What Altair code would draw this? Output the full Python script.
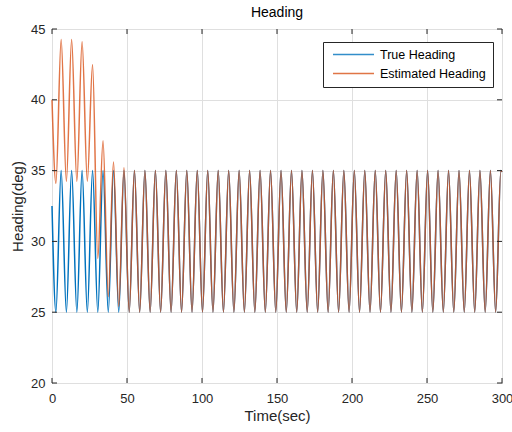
import altair as alt
import pandas as pd

time_s = [0, 2.61, 6.10, 9.59, 13.08, 16.57, 20.06, 23.55, 27.04, 30.53, 34.02, 37.51,
          41.00, 44.49, 47.98, 51.47, 54.96, 58.45, 61.94, 65.43, 68.92, 72.41, 75.90,
          79.39, 82.88, 86.37, 89.86, 93.35, 96.84, 100.33, 103.82, 107.31, 110.80,
          114.29, 117.78, 121.27, 124.76, 128.25, 131.74, 135.23, 138.72, 142.21,
          145.70, 149.19, 152.68, 156.17, 159.66, 163.15, 166.64, 170.13, 173.62,
          177.11, 180.60, 184.09, 187.58, 191.07, 194.56, 198.05, 201.54, 205.03,
          208.52, 212.01, 215.50, 218.99, 222.48, 225.97, 229.46, 232.95, 236.44,
          239.93, 243.42, 246.91, 250.40, 253.89, 257.38, 260.87, 264.36, 267.85,
          271.34, 274.83, 278.32, 281.81, 285.30, 288.79, 292.28, 295.77, 299.26, 300]

true_heading = [32.5, 25, 35, 25, 35, 25, 35, 25, 35, 25, 35, 25,
                35, 25, 35, 25, 35, 25, 35, 25, 35, 25, 35,
                25, 35, 25, 35, 25, 35, 25, 35, 25, 35,
                25, 35, 25, 35, 25, 35, 25, 35, 25,
                35, 25, 35, 25, 35, 25, 35, 25, 35,
                25, 35, 25, 35, 25, 35, 25, 35, 25,
                35, 25, 35, 25, 35, 25, 35, 25, 35,
                25, 35, 25, 35, 25, 35, 25, 35, 25,
                35, 25, 35, 25, 35, 25, 35, 25, 35, 34.9]

est_heading = [40.0, 34.1, 44.25, 34.25, 44.25, 34.25, 44.1, 34.25, 42.5, 28.8, 37.1, 26.1,
               35.6, 25.4, 35.2, 25, 35, 25, 35, 25, 35, 25, 35,
               25, 35, 25, 35, 25, 35, 25, 35, 25, 35,
               25, 35, 25, 35, 25, 35, 25, 35, 25,
               35, 25, 35, 25, 35, 25, 35, 25, 35,
               25, 35, 25, 35, 25, 35, 25, 35, 25,
               35, 25, 35, 25, 35, 25, 35, 25, 35,
               25, 35, 25, 35, 25, 35, 25, 35, 25,
               35, 25, 35, 25, 35, 25, 35, 25, 35, 34.9]

series_names = ["True Heading", "Estimated Heading"]
series_colors = ["#0072BD", "#D95319"]
x_ticks = [0, 50, 100, 150, 200, 250, 300]
y_ticks = [20, 25, 30, 35, 40, 45]

W, H = 450, 354
FONT = "Liberation Sans"
AX = "#262626"

df_true = pd.DataFrame({"t": time_s, "v": true_heading, "s": series_names[0]})
df_est = pd.DataFrame({"t": time_s, "v": est_heading, "s": series_names[1]})
df_xt = pd.DataFrame({"t": x_ticks})
df_yt = pd.DataFrame({"v": y_ticks})

xscale = alt.Scale(domain=[0, 300], nice=False, zero=False)
yscale = alt.Scale(domain=[20, 45], nice=False, zero=False)
cscale = alt.Scale(domain=series_names, range=series_colors)

xaxis = alt.Axis(values=x_ticks, grid=True, ticks=False, domain=False, title="Time(sec)",
                 labelPadding=9, titlePadding=3, labelFlush=False)
yaxis = alt.Axis(values=y_ticks, grid=True, ticks=False, domain=False, title="Heading(deg)",
                 labelPadding=7, titlePadding=5, labelFlush=False)

legend = alt.Legend(title=None, orient="none", legendX=271, legendY=13, padding=7,
                    strokeColor=AX, fillColor="white", symbolType="stroke",
                    symbolSize=1681, symbolStrokeWidth=1.5, symbolOffset=2,
                    labelFontSize=12.5, labelFont=FONT, labelColor="#000000",
                    labelOffset=5, clipHeight=11, rowPadding=6, cornerRadius=0)

line_true = alt.Chart(df_true).mark_line(interpolate="monotone", strokeWidth=1.5).encode(
    x=alt.X("t:Q", scale=xscale, axis=xaxis),
    y=alt.Y("v:Q", scale=yscale, axis=yaxis),
    color=alt.Color("s:N", scale=cscale, legend=legend),
)
line_est = alt.Chart(df_est).mark_line(interpolate="monotone", strokeWidth=1.5, opacity=0.8).encode(
    x=alt.X("t:Q", scale=xscale),
    y=alt.Y("v:Q", scale=yscale),
    color=alt.Color("s:N", scale=cscale, legend=legend),
)

tick_kw = dict(color=AX, strokeWidth=1)
xt_bottom = alt.Chart(df_xt).mark_rule(**tick_kw).encode(
    x=alt.X("t:Q", scale=xscale), y=alt.value(H), y2=alt.value(H - 5))
xt_top = alt.Chart(df_xt).mark_rule(**tick_kw).encode(
    x=alt.X("t:Q", scale=xscale), y=alt.value(0), y2=alt.value(5))
yt_left = alt.Chart(df_yt).mark_rule(**tick_kw).encode(
    y=alt.Y("v:Q", scale=yscale), x=alt.value(0), x2=alt.value(5))
yt_right = alt.Chart(df_yt).mark_rule(**tick_kw).encode(
    y=alt.Y("v:Q", scale=yscale), x=alt.value(W), x2=alt.value(W - 5))

chart = alt.layer(line_true, line_est, xt_bottom, xt_top, yt_left, yt_right).properties(
    width=W, height=H,
    title=alt.TitleParams("Heading", font=FONT, fontSize=14, fontWeight="normal",
                          color="#000000", offset=3),
    autosize=alt.AutoSizeParams(type="none"),
    padding={"left": 52, "top": 29, "right": 10, "bottom": 49},
    background="white",
).configure_view(
    stroke=AX, strokeWidth=1
).configure_axis(
    labelFont=FONT, titleFont=FONT, labelFontSize=13, titleFontSize=15,
    labelColor=AX, titleColor=AX, titleFontWeight="normal",
    gridColor="#dfdfdf", gridWidth=1,
)

chart.save("out.html", embed_options={"renderer": "svg", "actions": False})
